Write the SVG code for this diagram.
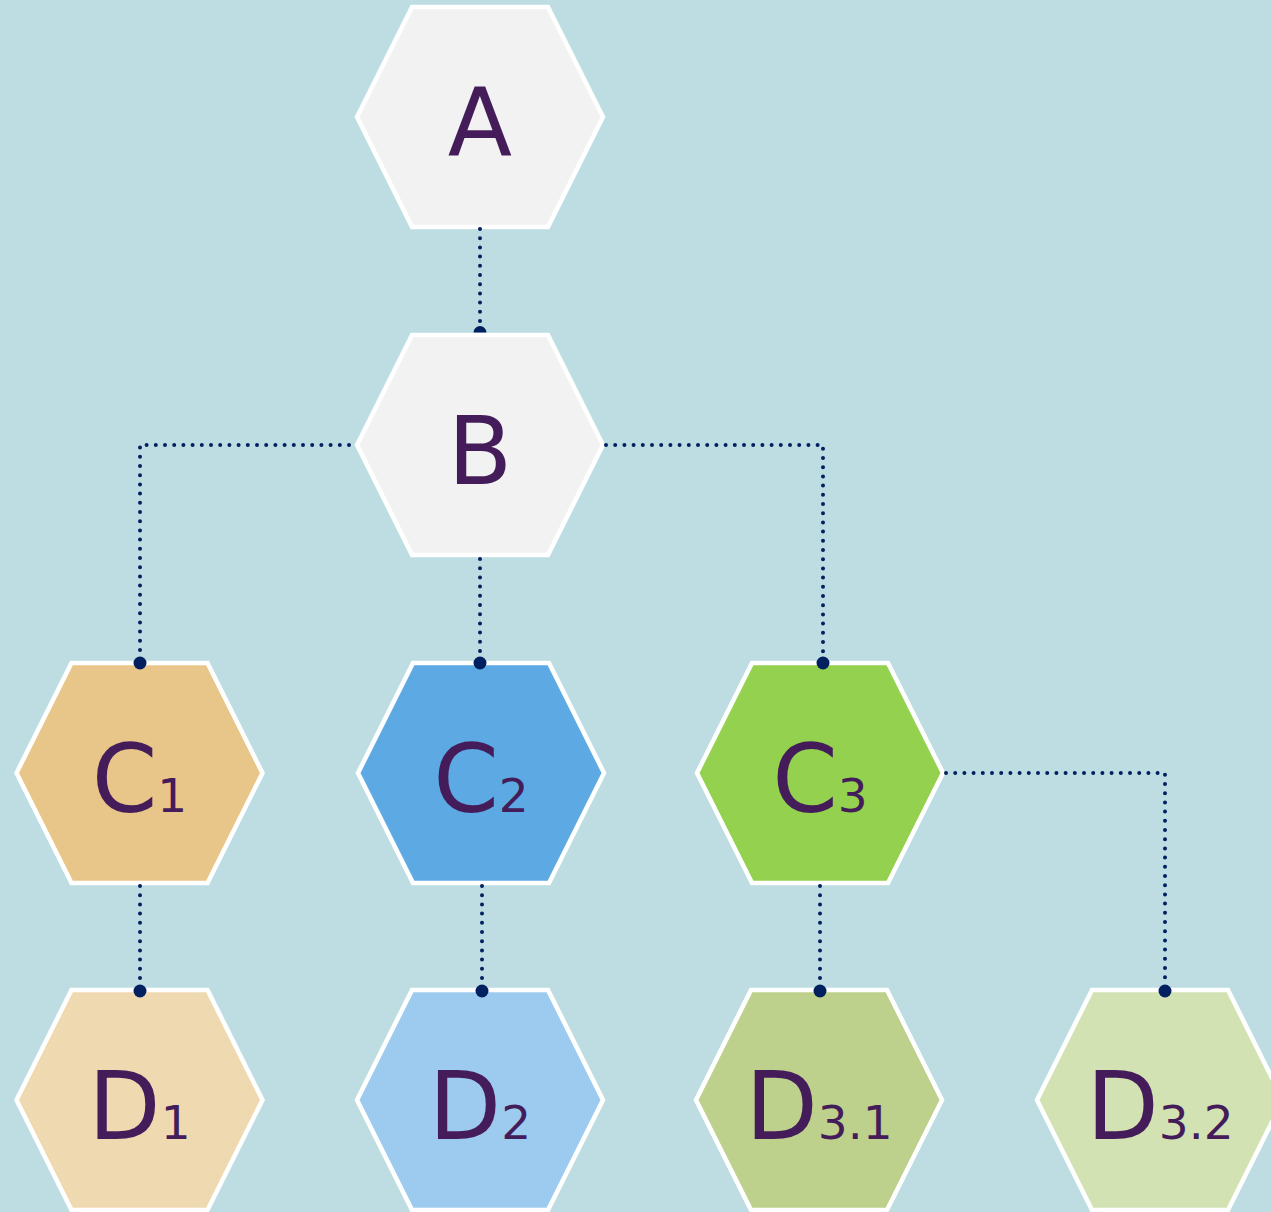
<svg xmlns="http://www.w3.org/2000/svg" xmlns:xlink="http://www.w3.org/1999/xlink" width="1271" height="1212" viewBox="0 0 1271 1212">
<style>
.hex{stroke:#ffffff;stroke-width:4.5;stroke-linejoin:miter}
.lbl{font-family:"DejaVu Sans",sans-serif;font-size:94px;fill:#441c5a;text-anchor:middle}
.sub{font-size:47px}
.con{fill:none;stroke:#002060;stroke-width:4;stroke-linecap:round;stroke-dasharray:0 9.2}
.end{fill:#002060}
</style>
<defs>
<polygon id="hx" points="-123,0 -68,-110 68,-110 123,0 68,110 -68,110"/>
</defs>
<rect width="1271" height="1212" fill="#bddde2"/>
<g id="node-A" transform="translate(480,117)">
<use xlink:href="#hx" class="hex" fill="#f2f2f2"/>
<text class="lbl" x="0" y="39">A</text>
</g>
<g id="node-B" transform="translate(480,445)">
<use xlink:href="#hx" class="hex" fill="#f2f2f2"/>
<text class="lbl" x="0" y="39">B</text>
</g>
<g id="node-C1" transform="translate(139.5,773)">
<use xlink:href="#hx" class="hex" fill="#e8c68a"/>
<text class="lbl" x="0" y="39">C<tspan class="sub">1</tspan></text>
</g>
<g id="node-C2" transform="translate(481,773)">
<use xlink:href="#hx" class="hex" fill="#5ca9e4"/>
<text class="lbl" x="0" y="39">C<tspan class="sub">2</tspan></text>
</g>
<g id="node-C3" transform="translate(820,773)">
<use xlink:href="#hx" class="hex" fill="#93d14f"/>
<text class="lbl" x="0" y="39">C<tspan class="sub">3</tspan></text>
</g>
<g id="node-D1" transform="translate(139.5,1100)">
<use xlink:href="#hx" class="hex" fill="#efd9b0"/>
<text class="lbl" x="0" y="39">D<tspan class="sub">1</tspan></text>
</g>
<g id="node-D2" transform="translate(480,1100)">
<use xlink:href="#hx" class="hex" fill="#9ccbef"/>
<text class="lbl" x="0" y="39">D<tspan class="sub">2</tspan></text>
</g>
<g id="node-D31" transform="translate(819,1100)">
<use xlink:href="#hx" class="hex" fill="#bdd18d"/>
<text class="lbl" x="0" y="39">D<tspan class="sub">3.1</tspan></text>
</g>
<g id="node-D32" transform="translate(1160,1100)">
<use xlink:href="#hx" class="hex" fill="#d3e2b2"/>
<text class="lbl" x="0" y="39">D<tspan class="sub">3.2</tspan></text>
</g>
<g id="connectors">
<path class="con" d="M480,229 V324"/>
<path class="end" d="M473.5,332.5 A6.5,6.5 0 0 1 486.5,332.5 Z"/>
<path class="con" d="M349,445 H140 V654"/>
<circle class="end" cx="140" cy="663" r="6.5"/>
<path class="con" d="M480,559 V654"/>
<circle class="end" cx="480" cy="663" r="6.5"/>
<path class="con" d="M606,445 H823 V654"/>
<circle class="end" cx="823" cy="663" r="6.5"/>
<path class="con" d="M140,886 V982"/>
<circle class="end" cx="140" cy="991" r="6.5"/>
<path class="con" d="M482,886 V982"/>
<circle class="end" cx="482" cy="991" r="6.5"/>
<path class="con" d="M820,886 V982"/>
<circle class="end" cx="820" cy="991" r="6.5"/>
<path class="con" d="M946,773 H1165 V982"/>
<circle class="end" cx="1165" cy="991" r="6.5"/>
</g>
</svg>
